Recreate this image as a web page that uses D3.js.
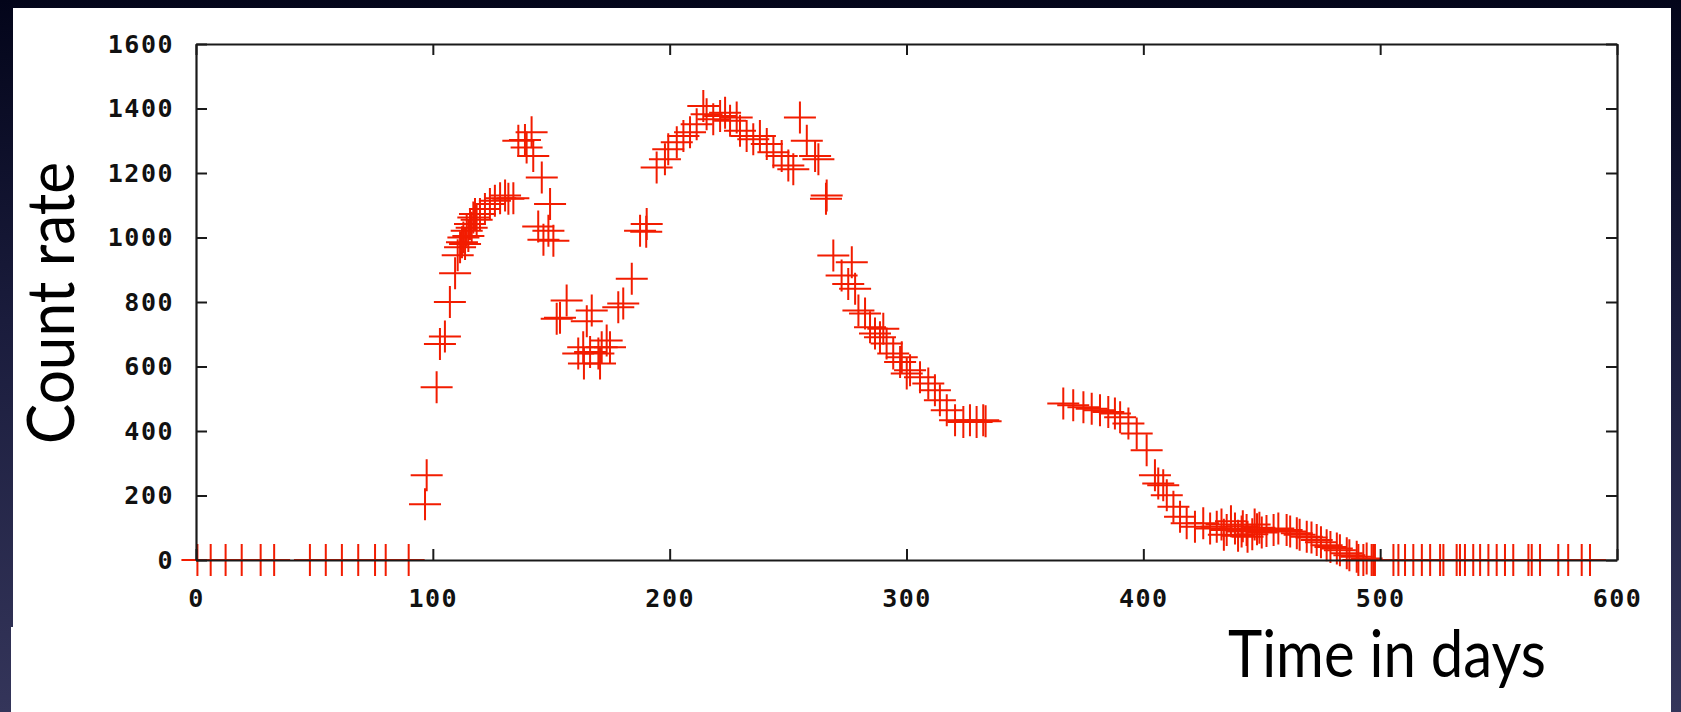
<!DOCTYPE html>
<html>
<head>
<meta charset="utf-8">
<script src="https://cdn.jsdelivr.net/npm/d3@7"></script>
<style>
  html, body { margin: 0; padding: 0; background: #0b0d24; overflow: hidden; }
  .tick text { font-family: "DejaVu Sans Mono", monospace; font-weight: bold; font-size: 25px; fill: #111; letter-spacing: 1.5px; }
  .tick line { stroke: #1a1a1a; stroke-width: 2; }
  .domain { stroke: #1a1a1a; stroke-width: 2.2; }
  .big { font-family: Lato, "Open Sans", sans-serif; font-size: 65px; fill: #000; }
</style>
</head>
<body>
<svg id="svg"></svg>
<script>
  // light curve (day, count rate)
  const days = [
    0.6, 6.2, 12.5, 19.3, 27.3, 33.0, 48.1, 54.8, 61.6, 68.5, 75.6, 80.1, 89.8,
    96.7, 97.4, 101.6, 103, 105.1, 107.2, 109.4,
    110.5, 111.5, 112.3, 112.9, 113.6, 114.3, 115, 115.7, 116.4, 117.1, 117.8, 118.5,
    119.9, 122, 124.1, 126.2, 128.4, 130.5, 131.9, 134,
    136.1, 138.9, 139.6, 141.7, 142.4, 144.5, 146, 146.7, 148.8, 149.5, 150.9,
    152.3, 153.7, 156.5,
    161.4, 163.5, 163.8, 165, 166.4, 167.1, 169.9, 170.6, 171.3, 173.4, 174.8,
    178.3, 180.4, 184, 187.5, 190.1, 190.3,
    194.5, 198, 199.4, 203, 205.8, 208.6, 211.4, 214.2, 215.6, 218.4, 221.3, 223.4, 225.5, 228.3, 229.7,
    232.5, 235.3, 238.1, 241, 243.8, 247.3, 250.1, 252.2, 255, 257.9, 261.4, 262.8, 266, 266.3,
    269.1, 272.6, 275.4, 276.9, 278.3, 279.7, 282.5, 284.6, 286.7, 288.8, 290.2, 291.6, 294.4, 297.3, 298,
    300.1, 301.5, 305.7, 309.2, 312, 314.1, 317, 320.5, 324, 326.8, 329.6, 332.4, 333.4,
    366.2, 370.4, 374.7, 378.2, 381.7, 385.2, 388, 390.2, 393.7, 397.2,
    401.4, 404.9, 406.3, 408.4, 409.9, 412.7, 415.5, 418.3, 421.8, 425.3, 428.2, 431, 435.2, 438.7, 441.5, 443.6,
    433, 434, 437, 440, 442, 444, 447, 449, 457, 462, 466, 471, 475, 479, 483, 487,
    446, 448, 450, 452, 455, 460.5, 464.8, 469, 473.2, 477.4, 481.7, 485.9, 490.1, 494.3, 497.1,
    490.8, 492.9, 496.4, 497.8, 505.6, 507.7, 510.5, 514, 517.6, 521.1, 525.3, 526.7, 532.3, 533.7,
    535.8, 539.3, 542.2, 545.7, 549.2, 552.7, 556.2, 562.6, 564, 567.5, 575.2, 579.4, 585.1, 588.6
  ];
  const counts = [
    0, 0, 0, 0, 0, 0, 0, 0, 0, 0, 0, 0, 0,
    173, 263, 536, 670, 693, 800, 889,
    945, 970, 985, 1000, 980, 1021, 1005, 1042, 1030, 1062, 1073, 1055,
    1073, 1088, 1104, 1114, 1122, 1130, 1120, 1122,
    1300, 1302, 1279, 1326, 1253, 1034, 1186, 993, 1021, 1104, 990,
    748, 751, 805,
    640, 660, 609, 740, 645, 774, 640, 609, 660, 681, 660,
    784, 795, 872, 1021, 1018, 1042,
    1217, 1243, 1274, 1295, 1315, 1326, 1351, 1408, 1382, 1367, 1377, 1387, 1362, 1372, 1331,
    1315, 1305, 1315, 1290, 1264, 1253, 1223, 1212, 1372, 1300, 1253, 1243, 1120, 1130,
    944, 882, 856, 923, 841, 774, 764, 722, 702, 691, 717, 671, 640, 614, 629,
    578, 588, 567, 547, 526, 495, 464, 433, 428, 433, 428, 433, 430,
    485, 480, 474, 469, 464, 459, 454, 443, 423, 392,
    340, 263, 237, 232, 201, 165, 134, 114, 103, 114, 98, 103, 93, 98, 88, 93,
    110, 78, 120, 75, 105, 72, 110, 100, 98, 88, 78, 70, 55, 40, 30, 15,
    80, 95, 85, 90, 93, 93, 83, 72, 62, 46, 36, 21, 10, 5, 0,
    0, 0, 0, 0, 0, 0, 0, 0, 0, 0, 0, 0, 0, 0,
    0, 0, 0, 0, 0, 0, 0, 0, 0, 0, 0, 0, 0, 0
  ];
  const xTicks = [0, 100, 200, 300, 400, 500, 600];
  const yTicks = [0, 200, 400, 600, 800, 1000, 1200, 1400, 1600];
  const xTitle = "Time in days";
  const yTitle = "Count rate";

  const W = 1681, H = 712;
  const marginLeft = 196, marginRight = 64, marginTop = 44, marginBottom = 152;
  const width = W - marginLeft - marginRight;
  const height = H - marginTop - marginBottom;

  const svg = d3.select("#svg")
      .attr("width", W)
      .attr("height", H);

  // slide background
  const defs = svg.append("defs");
  const grad = defs.append("linearGradient")
      .attr("id", "bg")
      .attr("x1", 0).attr("y1", 0).attr("x2", 0).attr("y2", 1);
  grad.append("stop").attr("offset", "0%").attr("stop-color", "#03051a");
  grad.append("stop").attr("offset", "45%").attr("stop-color", "#1a1c3c");
  grad.append("stop").attr("offset", "100%").attr("stop-color", "#34355a");

  svg.append("rect").attr("width", W).attr("height", H).attr("fill", "url(#bg)");
  svg.append("rect").attr("x", 13).attr("y", 8).attr("width", 1658).attr("height", H - 8).attr("fill", "#fff");
  svg.append("rect").attr("x", 11).attr("y", 627).attr("width", 4).attr("height", H - 627).attr("fill", "#fff");

  const xScale = d3.scaleLinear().domain([0, 600]).range([0, width]);
  const yScale = d3.scaleLinear().domain([0, 1600]).range([height, 0]);
  const fmt = d3.format("d");

  const chart = svg.append("g")
      .attr("transform", `translate(${marginLeft}, ${marginTop})`);

  // red "+" points (drawn first, the frame sits on top)
  const arm = 16;
  chart.append("g")
      .selectAll("path")
      .data(days.map((d, i) => ({ day: d, count: counts[i] })))
      .enter().append("path")
      .attr("d", d => {
        const x = xScale(d.day), y = yScale(d.count);
        return `M${x - arm},${y}H${x + arm}M${x},${y - arm}V${y + arm}`;
      })
      .attr("fill", "none")
      .attr("stroke", "#f21c00")
      .attr("stroke-width", 2);

  chart.append("g")
      .call(d3.axisLeft(yScale).tickValues(yTicks).tickFormat(fmt).tickSizeInner(-11).tickSizeOuter(0).tickPadding(22));

  chart.append("g")
      .attr("transform", `translate(0, ${height})`)
      .call(d3.axisBottom(xScale).tickValues(xTicks).tickFormat(fmt).tickSizeInner(-11).tickSizeOuter(0).tickPadding(29));

  chart.append("g")
      .call(d3.axisTop(xScale).tickValues(xTicks).tickSizeInner(-11).tickSizeOuter(0).tickFormat(""));

  chart.append("g")
      .attr("transform", `translate(${width}, 0)`)
      .call(d3.axisRight(yScale).tickValues(yTicks).tickSizeInner(-11).tickSizeOuter(0).tickFormat(""));

  // slide titles
  svg.append("text")
      .attr("class", "big")
      .attr("x", 1228)
      .attr("y", 677)
      .attr("textLength", 318)
      .attr("lengthAdjust", "spacingAndGlyphs")
      .text(xTitle);

  svg.append("text")
      .attr("class", "big")
      .attr("transform", "translate(74, 303) rotate(-90)")
      .attr("text-anchor", "middle")
      .attr("textLength", 282)
      .attr("lengthAdjust", "spacingAndGlyphs")
      .text(yTitle);
</script>
</body>
</html>
